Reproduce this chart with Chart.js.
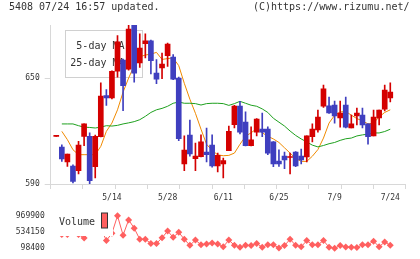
<!DOCTYPE html>
<html>
<head>
<meta charset="utf-8">
<script src="https://cdn.jsdelivr.net/npm/chart.js@4.4.1/dist/chart.umd.min.js"></script>
<style>
  html, body { margin: 0; padding: 0; background: #fff; }
  #wrap { position: relative; width: 420px; height: 259px; overflow: hidden; }
  #price { position: absolute; left: 0; top: 0; }
  #volume { position: absolute; left: 0; top: 205px; }
</style>
</head>
<body>
<div id="wrap">
  <canvas id="price" width="420" height="205"></canvas>
  <canvas id="volume" width="420" height="54"></canvas>
</div>
<script>
// Trading days shown on the chart
var dates = ['4/25','4/26','4/30','5/1','5/2','5/7','5/8','5/9','5/10','5/13',
  '5/14','5/15','5/16','5/17','5/20','5/21','5/22','5/23','5/24','5/27',
  '5/28','5/29','5/30','5/31','6/3','6/4','6/5','6/6','6/7','6/10',
  '6/11','6/12','6/13','6/14','6/17','6/18','6/19','6/20','6/21','6/24',
  '6/25','6/26','6/27','6/28','7/1','7/2','7/3','7/4','7/5','7/8',
  '7/9','7/10','7/11','7/12','7/16','7/17','7/18','7/19','7/22','7/23','7/24'];

var opens = [617.0,610.9,602.5,600.2,597.5,617.0,617.0,599.8,616.8,640.0,
  638.7,653.8,660.2,655.0,680.0,658.5,669.4,671.1,652.8,655.7,
  662.6,661.9,650.0,601.3,617.7,604.3,605.5,608.1,612.1,600.2,
  601.3,608.9,623.6,634.1,625.1,611.7,619.4,621.1,621.1,613.8,
  603.0,605.8,605.0,608.1,605.8,605.3,616.8,620.6,634.0,634.2,
  634.7,627.4,634.7,621.7,628.5,629.0,624.0,617.2,627.4,632.4,638.7];
var highs = [617.3,612.2,607.0,600.8,614.2,624.0,619.0,617.7,647.2,643.4,
  654.0,674.0,660.7,680.0,680.0,675.0,675.0,671.5,660.4,664.1,
  669.8,663.2,650.5,617.2,626.2,613.2,617.9,621.7,617.9,607.5,
  604.7,622.8,634.5,636.8,630.8,622.4,627.0,630.2,622.4,614.0,
  609.4,608.1,607.5,608.3,609.8,617.2,624.0,631.9,646.0,639.2,
  637.0,637.0,639.2,629.0,633.0,633.0,624.0,631.9,631.9,646.0,647.2];
var lows = [617.0,602.8,600.0,590.6,595.7,611.7,590.0,593.4,616.6,634.5,
  638.1,650.4,631.5,654.5,647.6,656.0,661.3,652.3,646.8,649.6,
  656.6,649.0,614.5,597.5,605.7,597.5,605.3,602.5,599.5,596.8,
  593.4,608.8,621.7,618.3,611.5,611.5,617.2,616.8,606.6,599.8,
  600.0,598.7,595.7,599.8,601.3,602.5,613.8,619.4,633.4,630.0,
  624.5,622.2,621.7,621.7,623.4,621.7,612.6,617.2,623.4,631.3,636.4];
var closes = [617.3,604.2,607.0,591.5,612.1,624.0,591.9,617.0,639.8,638.7,
  653.8,670.5,645.6,677.7,652.7,667.0,671.1,659.8,649.4,657.9,
  669.2,649.4,615.6,609.2,607.0,605.8,613.8,606.6,600.2,606.2,
  603.2,619.8,634.1,619.4,611.7,615.0,626.8,619.4,607.5,601.3,
  601.3,603.6,605.5,600.2,603.6,617.2,621.1,627.9,643.8,630.2,
  628.5,630.2,622.2,624.0,630.2,623.4,616.8,627.9,631.9,643.2,642.1];

// Moving averages
var ma5 = [null,619.8,615.1,609.4,606.6,606.6,606.6,606.6,611.3,619.8,
  624.5,632.0,642.0,650.0,657.0,662.0,663.0,663.5,664.5,660.5,
  661.0,661.3,657.0,647.0,638.0,630.0,621.0,612.5,609.0,606.5,
  606.0,606.2,607.5,612.5,617.0,619.0,621.3,619.0,617.0,615.5,
  613.5,610.5,607.5,604.5,602.8,602.8,605.7,609.5,616.0,624.5,
  628.9,630.8,631.0,629.0,627.0,625.8,624.0,624.5,628.0,630.5,632.0];
var ma25 = [null,624.0,624.0,624.0,623.0,622.2,622.0,621.7,622.2,623.0,
  622.8,623.2,624.0,624.6,625.3,626.4,628.3,630.5,632.0,632.8,
  634.0,635.7,636.4,635.7,635.7,635.5,634.7,635.5,635.7,635.7,
  635.5,634.5,635.5,636.8,635.7,634.6,634.0,632.5,630.5,627.2,
  625.0,622.8,620.0,617.5,615.5,613.8,612.0,611.0,611.8,612.8,
  613.5,614.7,615.6,616.0,617.2,617.8,618.2,618.9,618.9,619.7,621.0];

var volumes = [540000,470000,470000,560000,470000,370000,580000,540000,640000,304000,
  500000,969900,449700,858700,636400,338500,338500,227300,227300,376300,
  560800,391900,525300,338500,176200,316300,191800,214000,236200,214000,
  138400,316300,176200,125100,176200,169500,227300,125100,191800,191800,
  102800,169500,338500,176200,138400,302900,191800,191800,302900,125100,
  98400,169500,131700,125100,116200,191800,191800,287400,138400,265100,176200];

var priceTicks = [590, 650];
var volumeTicks = [98400, 534150, 969900];
var dateTickIndex = [10, 20, 30, 40, 50, 60];

var MONO = '"DejaVu Sans Mono", monospace';
var RED = '#d40000';
var BLUE = '#3f3fbf';
var AXIS = '#d8d8d8';
var TEXT = '#333';
var X_MIN = -1, X_MAX = 62.77;

Chart.defaults.font.family = MONO;
Chart.defaults.color = TEXT;

var candleColors = closes.map(function (c, i) {
  return c >= opens[i] ? RED : BLUE;
});

function points(values) {
  return values.map(function (v, i) { return { x: i, y: v }; });
}

// Title line and MA legend box (legend sits behind the candles)
var priceDecor = {
  id: 'priceDecor',
  beforeDatasetsDraw: function (chart) {
    var ctx = chart.ctx;
    ctx.save();
    ctx.strokeStyle = '#d0d0d0';
    ctx.lineWidth = 1;
    ctx.strokeRect(65.5, 30.5, 77, 47);
    ctx.fillStyle = TEXT;
    ctx.font = '10px ' + MONO;
    ctx.textAlign = 'right';
    ctx.textBaseline = 'middle';
    ctx.fillText('5-day MA', 124.5, 46);
    ctx.fillText('25-day MA', 124.5, 63.5);
    ctx.restore();
  },
  afterDraw: function (chart) {
    var ctx = chart.ctx;
    ctx.save();
    ctx.fillStyle = TEXT;
    ctx.font = '10px ' + MONO;
    ctx.textBaseline = 'middle';
    ctx.textAlign = 'left';
    ctx.fillText('5408 07/24 16:57 updated.', 9, 7.5);
    ctx.textAlign = 'right';
    ctx.fillText('(C)https://www.rizumu.net/', 409.5, 7.5);
    ctx.restore();
  }
};

new Chart(document.getElementById('price'), {
  type: 'bar',
  data: {
    datasets: [
      {
        type: 'bar',
        data: closes.map(function (c, i) { return { x: i, y: [opens[i], c] }; }),
        backgroundColor: candleColors,
        barThickness: 5,
        minBarLength: 1,
        grouped: false,
        order: 0
      },
      {
        type: 'bar',
        data: lows.map(function (l, i) { return { x: i, y: [l, highs[i]] }; }),
        backgroundColor: candleColors,
        barThickness: 1,
        grouped: false,
        order: 1
      },
      {
        type: 'line',
        data: points(ma25),
        borderColor: '#1ea01e',
        borderWidth: 1,
        pointRadius: 0,
        order: 2
      },
      {
        type: 'line',
        data: points(ma5),
        borderColor: '#f08a00',
        borderWidth: 1,
        pointRadius: 0,
        order: 3
      }
    ]
  },
  options: {
    responsive: false,
    animation: false,
    devicePixelRatio: 1,
    layout: { padding: { left: 0, right: 14.3, top: 25, bottom: 0 } },
    plugins: { legend: { display: false }, tooltip: { enabled: false } },
    scales: {
      x: {
        type: 'linear',
        position: 'bottom',
        weight: 0,
        min: X_MIN,
        max: X_MAX,
        offset: false,
        afterBuildTicks: function (s) {
          var t = [];
          for (var k = 0; k <= 11; k++) t.push({ value: X_MIN + (X_MAX - X_MIN) * k / 11 });
          s.ticks = t;
        },
        afterFit: function (s) { s.height = 5; },
        ticks: { display: false },
        grid: { drawOnChartArea: false, tickLength: 5, color: AXIS, offset: false },
        border: { color: AXIS }
      },
      xd: {
        type: 'linear',
        position: 'bottom',
        weight: 1,
        min: X_MIN,
        max: X_MAX,
        offset: false,
        afterBuildTicks: function (s) {
          s.ticks = dateTickIndex.map(function (v) { return { value: v }; });
        },
        afterFit: function (s) { s.height = 16; },
        ticks: {
          autoSkip: false,
          maxRotation: 0,
          padding: 4,
          font: { size: 8, family: MONO },
          callback: function (v) { return dates[v]; }
        },
        grid: { display: false, drawTicks: false },
        border: { display: false }
      },
      y: {
        type: 'linear',
        position: 'left',
        min: 590,
        max: 680,
        beginAtZero: false,
        afterBuildTicks: function (s) {
          s.ticks = priceTicks.map(function (v) { return { value: v }; });
        },
        afterFit: function (s) { s.width = 50.7; },
        ticks: {
          padding: 5,
          font: { size: 8, family: MONO },
          callback: function (v) { return String(v); }
        },
        grid: { drawOnChartArea: false, tickLength: 6, color: AXIS },
        border: { color: AXIS }
      }
    }
  },
  plugins: [priceDecor]
});

// Volume legend covers the start of the line
var volumeDecor = {
  id: 'volumeDecor',
  afterDatasetsDraw: function (chart) {
    var ctx = chart.ctx;
    ctx.save();
    ctx.fillStyle = '#fff';
    ctx.fillRect(50, 0, 63, 31);
    ctx.fillStyle = TEXT;
    ctx.font = '10px ' + MONO;
    ctx.textAlign = 'left';
    ctx.textBaseline = 'middle';
    ctx.fillText('Volume', 59, 17);
    ctx.fillStyle = '#ff5f5f';
    ctx.fillRect(101.5, 8, 6, 15);
    ctx.strokeStyle = '#333';
    ctx.lineWidth = 1;
    ctx.strokeRect(101.5, 8, 6, 15);
    ctx.restore();
  }
};

new Chart(document.getElementById('volume'), {
  type: 'line',
  data: {
    datasets: [{
      data: points(volumes),
      borderColor: '#ff5f5f',
      backgroundColor: '#ff5f5f',
      borderWidth: 1,
      pointStyle: 'rectRot',
      pointRadius: 3.5,
      pointBorderWidth: 0,
      clip: false
    }]
  },
  options: {
    responsive: false,
    animation: false,
    devicePixelRatio: 1,
    layout: { padding: { left: 0, right: 14.3, top: 4.3, bottom: 10.4 } },
    plugins: { legend: { display: false }, tooltip: { enabled: false } },
    scales: {
      x: {
        type: 'linear',
        min: X_MIN,
        max: X_MAX,
        display: false
      },
      y: {
        type: 'linear',
        position: 'left',
        min: volumeTicks[0],
        max: volumeTicks[volumeTicks.length - 1],
        afterBuildTicks: function (s) {
          s.ticks = volumeTicks.map(function (v) { return { value: v }; });
        },
        afterFit: function (s) { s.width = 50.7; },
        ticks: {
          padding: 6,
          font: { size: 8, family: MONO },
          callback: function (v) { return String(v); }
        },
        grid: { display: false, drawTicks: false },
        border: { display: false }
      }
    }
  },
  plugins: [volumeDecor]
});
</script>
</body>
</html>
